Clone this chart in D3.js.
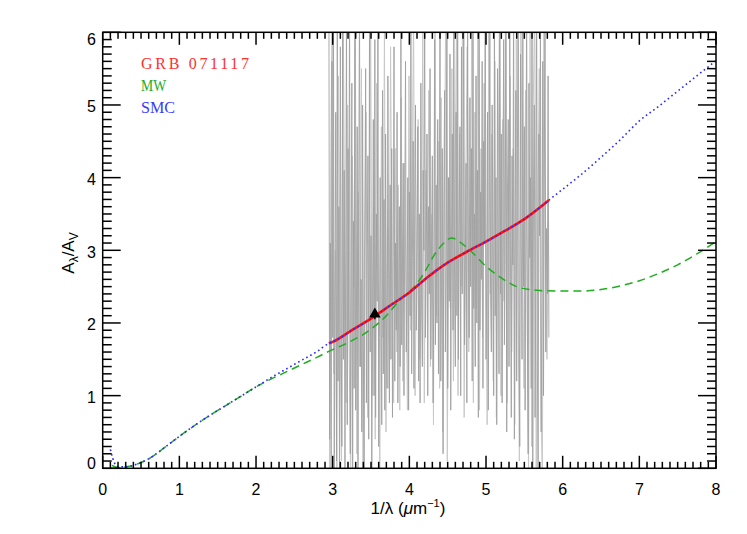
<!DOCTYPE html>
<html><head><meta charset="utf-8">
<script src="https://cdn.jsdelivr.net/npm/d3@7/dist/d3.min.js"></script>
<style>body{margin:0;background:#fff}svg{display:block}</style>
</head><body>
<script>
// ---- data ----
const smcX = [0.10,0.13,0.16,0.20,0.30,0.40,0.50,0.60,0.70,0.80,0.90,1.00,1.20,1.40,1.60,1.80,2.00,2.20,2.40,2.60,2.80,2.95,3.00,3.25,3.50,3.75,4.00,4.25,4.50,4.75,5.00,5.25,5.50,5.82,6.00,6.25,6.50,6.75,7.00,7.25,7.50,7.75,8.00];
const smcY = [0.26,0.14,0.06,0.02,0.02,0.04,0.08,0.13,0.20,0.28,0.36,0.44,0.59,0.73,0.86,0.99,1.12,1.25,1.37,1.49,1.61,1.72,1.74,1.90,2.06,2.24,2.42,2.64,2.83,2.98,3.12,3.27,3.43,3.69,3.84,4.05,4.28,4.52,4.78,4.98,5.19,5.40,5.61];
const mwX = [0.12,0.20,0.30,0.40,0.50,0.60,0.70,0.80,0.90,1.00,1.20,1.40,1.60,1.80,2.00,2.20,2.40,2.60,2.80,2.97,3.20,3.44,3.70,3.88,4.05,4.20,4.31,4.45,4.55,4.65,4.79,5.01,5.20,5.40,5.66,5.92,6.25,6.50,6.75,7.00,7.25,7.50,7.75,8.00];
const mwY = [0.04,0.01,0.02,0.04,0.08,0.13,0.20,0.28,0.36,0.44,0.59,0.73,0.86,0.99,1.12,1.23,1.33,1.43,1.53,1.62,1.73,1.87,2.10,2.32,2.48,2.70,2.91,3.10,3.17,3.12,3.00,2.77,2.62,2.50,2.45,2.44,2.44,2.46,2.51,2.58,2.68,2.80,2.95,3.12];
const grbX = [2.95,3.00,3.25,3.50,3.75,4.00,4.25,4.50,4.75,5.00,5.25,5.50,5.82];
const grbY = [1.72,1.74,1.90,2.06,2.24,2.42,2.64,2.83,2.98,3.12,3.27,3.43,3.69];
const photX = [3.55];
const photY = [2.12];
const photErr = [0.07];
// spectrum: two overlaid traces (start, step in 1/lambda)
const specDarkStart = 2.95, specDarkStep = 0.01;
const specLightStart = 2.955, specLightStep = 0.02;
const specDark = [
6.9,0.4,3.1,-0.5,5.6,1.8,6.7,-0.2,2.4,4.9,0.1,6.3,1.2,3.6,-0.4,5.8,2.0,0.3,6.5,1.5,4.1,-0.1,3.0,6.2,
0.6,4.4,1.9,6.6,0.2,2.7,5.3,-0.3,3.4,1.1,6.1,0.8,2.2,4.7,0.0,3.9,6.4,1.4,2.6,0.5,5.0,1.7,-0.2,3.3,
5.5,0.9,2.8,4.3,0.4,6.0,1.6,3.2,-0.1,2.1,4.8,1.0,5.9,0.7,3.5,2.3,6.3,0.3,1.8,4.0,2.5,0.6,5.2,1.3,
3.7,0.8,4.6,2.0,1.1,5.4,2.6,0.9,3.9,1.5,4.4,0.7,2.9,5.8,1.2,3.1,1.9,4.9,0.9,2.4,3.6,1.4,6.1,1.7,
2.7,4.2,1.0,3.4,5.6,1.6,2.3,4.0,0.8,3.8,2.1,6.2,1.3,2.9,4.5,1.1,3.3,5.0,1.9,2.6,4.7,1.2,3.5,0.9,
5.3,2.2,1.4,4.1,3.0,6.4,1.8,2.8,4.6,1.0,3.6,2.4,5.5,1.5,3.1,4.3,0.9,2.7,5.9,1.7,3.9,2.0,4.8,1.3,
3.4,6.1,1.2,2.5,4.4,0.2,3.7,5.2,1.6,2.9,6.6,1.1,4.0,2.3,5.7,0.8,3.2,4.6,1.9,6.3,2.6,1.4,4.9,2.1,
6.5,1.5,3.3,4.7,1.0,5.8,2.4,3.6,6.7,1.7,2.8,4.2,0.9,6.0,3.0,1.8,5.1,2.5,4.4,1.2,6.8,2.2,3.5,1.4,
5.4,2.0,4.1,0.7,6.4,1.9,3.8,2.6,5.6,1.1,4.5,3.1,6.9,1.5,2.7,4.9,0.8,3.6,6.2,2.3,1.6,5.0,3.2,1.0,
6.3,2.1,4.0,0.6,5.5,3.3,1.3,6.7,2.4,4.6,0.9,3.5,5.9,1.7,2.9,6.5,0.5,3.8,4.8,1.4,6.1,2.6,0.7,4.3,
2.8,6.6,0.4,3.7,5.2,1.2,4.4,6.9,2.0,0.3,5.7,3.1,1.5,6.2,2.5,4.7,0.8,3.4,6.4,1.8,0.2,5.3,2.9,4.0,
1.1,6.5,-0.2,3.9,5.0,0.7,2.6,6.8,1.4,-0.3,4.6,3.2,6.1,0.5,2.3,5.6,1.0,4.1,6.3,1.6,3.3,2.4,5.4,1.8];
const specLight = [
-0.5,4.2,6.9,1.3,3.0,-0.2,5.4,2.2,0.1,6.7,3.4,0.9,
5.0,1.6,-0.3,4.3,2.5,6.2,0.2,3.8,1.4,5.5,0.0,2.9,
4.9,0.7,2.6,6.3,1.0,3.6,0.4,5.3,2.0,-0.1,4.7,1.8,
6.0,0.5,3.3,1.1,5.8,2.4,0.9,4.4,1.6,3.9,0.8,5.1,
1.2,4.2,2.7,0.8,5.4,1.9,3.7,6.3,1.0,3.0,4.8,1.5,
2.4,6.0,0.9,4.1,2.8,5.2,1.4,3.5,0.6,6.4,2.1,4.5,
1.1,5.1,0.5,3.3,6.5,0.1,4.0,2.2,5.5,1.2,3.8,6.1,
1.0,4.6,2.5,6.6,0.7,3.9,5.8,1.6,3.1,6.2,0.9,4.9,
2.2,6.7,0.8,4.4,1.8,5.3,3.0,0.6,6.0,2.4,4.6,1.2,
5.6,0.7,3.4,6.3,1.0,4.8,2.3,6.6,0.9,3.7,5.4,1.6,
4.4,0.6,5.9,2.7,0.1,6.5,3.2,1.1,5.2,2.5,-0.1,6.0,
0.3,4.9,6.4,-0.3,3.6,5.5,1.0,-0.2,6.2,2.8,1.5,3.4];
const xTickLabels = ["0","1","2","3","4","5","6","7","8"];
const yTickLabels = ["0","1","2","3","4","5","6"];
const legendLabels = ["GRB 071117","MW","SMC"];

// ---- layout ----
const W = 747, H = 534;
const L = 102.7, R = 716, T = 32.3, B = 468.3;
const x = d3.scaleLinear().domain([0,8]).range([L,R]);
const y = d3.scaleLinear().domain([0,6]).range([B,T]);

const svg = d3.select("body").append("svg").attr("width",W).attr("height",H);
svg.append("defs").append("clipPath").attr("id","clip")
  .append("rect").attr("x",L).attr("y",T).attr("width",R-L).attr("height",B-T);
const plot = svg.append("g").attr("clip-path","url(#clip)");

const lineLin = d3.line().x(d=>x(d[0])).y(d=>y(d[1]));
const lineSmooth = d3.line().x(d=>x(d[0])).y(d=>y(d[1])).curve(d3.curveMonotoneX);

function specPts(arr, start, step){ return arr.map((v,i)=>[start+i*step, v]); }
plot.append("path").attr("d", lineLin(specPts(specLight, specLightStart, specLightStep)))
  .attr("fill","none").attr("stroke","#c8c8c8").attr("stroke-width",1);
plot.append("path").attr("d", lineLin(specPts(specDark, specDarkStart, specDarkStep)))
  .attr("fill","none").attr("stroke","#a0a0a0").attr("stroke-width",0.9);

plot.append("path").attr("d", lineSmooth(mwX.map((v,i)=>[v,mwY[i]])))
  .attr("fill","none").attr("stroke","#1fae1f").attr("stroke-width",1.5).attr("stroke-dasharray","8,5");
plot.append("path").attr("d", lineSmooth(grbX.map((v,i)=>[v,grbY[i]])))
  .attr("fill","none").attr("stroke","#ff1010").attr("stroke-width",2.6);
plot.append("path").attr("d", lineSmooth(smcX.map((v,i)=>[v,smcY[i]])))
  .attr("fill","none").attr("stroke","#2a2aff").attr("stroke-width",1.6).attr("stroke-dasharray","1.6,3");

// photometric point
photX.forEach((px,i)=>{
  const cx = x(px), cy = y(photY[i]);
  plot.append("line").attr("x1",cx).attr("x2",cx).attr("y1",y(photY[i]+photErr[i])).attr("y2",y(photY[i]-photErr[i]))
    .attr("stroke","#000").attr("stroke-width",1.5);
  plot.append("path").attr("d", d3.symbol().type(d3.symbolTriangle).size(58)())
    .attr("transform",`translate(${cx},${cy})`).attr("fill","#000");
});

// ---- axes frame & ticks ----
const ax = svg.append("g").attr("stroke","#000").attr("stroke-width",1.5);
ax.append("rect").attr("x",L).attr("y",T).attr("width",R-L).attr("height",B-T).attr("fill","none");
const xMin = d3.range(0,81).map(i=>i/10);
xMin.forEach(v=>{
  const major = Math.abs(v-Math.round(v))<1e-6;
  const len = major?12.5:6.5;
  ax.append("line").attr("x1",x(v)).attr("x2",x(v)).attr("y1",B).attr("y2",B-len);
  ax.append("line").attr("x1",x(v)).attr("x2",x(v)).attr("y1",T).attr("y2",T+len);
});
const yMin = d3.range(0,61).map(i=>i/10);
yMin.forEach(v=>{
  const major = Math.abs(v-Math.round(v))<1e-6;
  const len = major?18:9;
  ax.append("line").attr("y1",y(v)).attr("y2",y(v)).attr("x1",L).attr("x2",L+len);
  ax.append("line").attr("y1",y(v)).attr("y2",y(v)).attr("x1",R).attr("x2",R-len);
});

const tickFont = "'Liberation Sans', Arial, sans-serif";
svg.append("g").selectAll("text").data(xTickLabels).join("text")
  .attr("x",(d,i)=>x(i)).attr("y",494.5).attr("text-anchor","middle")
  .attr("font-family",tickFont).attr("font-size",16).text(d=>d);
svg.append("g").selectAll("text").data(yTickLabels).join("text")
  .attr("x",96).attr("y",(d,i)=> i===0 ? 469 : Math.max(y(i)+7.5, 45)).attr("text-anchor","end")
  .attr("font-family",tickFont).attr("font-size",16).text(d=>d);

// x title
const xt = svg.append("text").attr("x",408).attr("y",514).attr("text-anchor","middle")
  .attr("font-family",tickFont).attr("font-size",17);
xt.append("tspan").text("1/λ (");
xt.append("tspan").attr("font-style","italic").text("μ");
xt.append("tspan").text("m");
xt.append("tspan").attr("dy",-7).attr("font-size",11).text("−1");
xt.append("tspan").attr("dy",7).text(")");

// y title
const yt = svg.append("text").attr("transform","translate(74,253) rotate(-90)").attr("text-anchor","middle")
  .attr("font-family",tickFont).attr("font-size",17);
yt.append("tspan").text("A");
yt.append("tspan").attr("dy",4).attr("font-size",12).text("λ");
yt.append("tspan").attr("dy",-4).text("/A");
yt.append("tspan").attr("dy",4).attr("font-size",12).text("V");

// legend
const legColors = ["#ff3030","#22aa22","#3a3aff"];
const legY = [69,91,112.7];
const legW = [108,25,34];
const legAdj = ["spacing","spacingAndGlyphs","spacingAndGlyphs"];
svg.append("g").selectAll("text").data(legendLabels).join("text")
  .attr("x",141).attr("y",(d,i)=>legY[i]).attr("fill",(d,i)=>legColors[i])
  .attr("font-family","'Liberation Serif','DejaVu Serif',serif").attr("font-size",16)
  .attr("textLength",(d,i)=>legW[i]).attr("lengthAdjust",(d,i)=>legAdj[i]).text(d=>d);
</script>
</body></html>
